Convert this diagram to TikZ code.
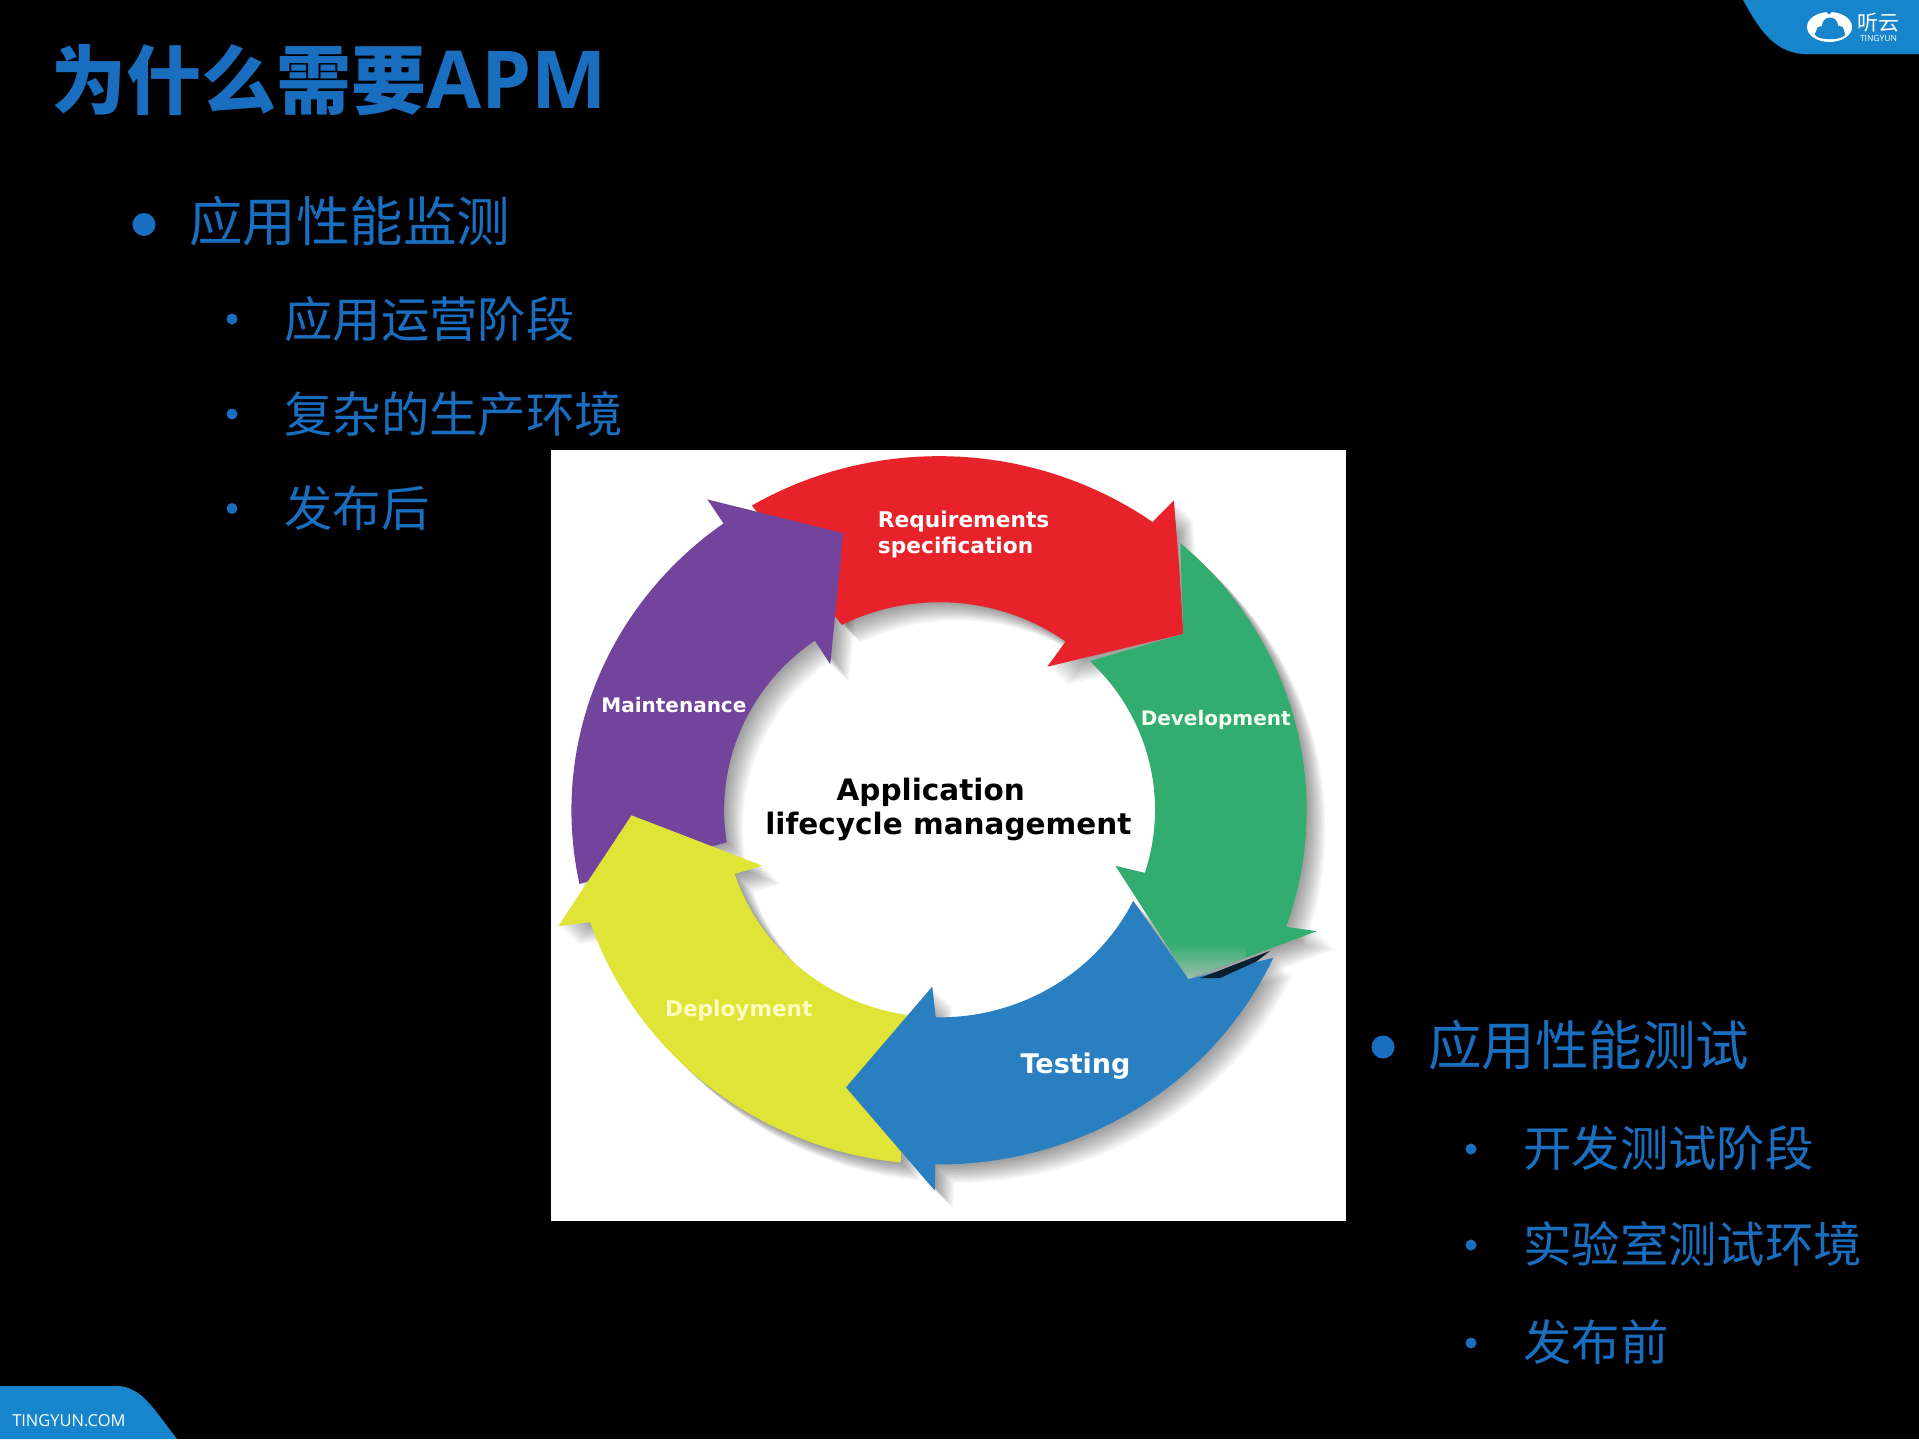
\documentclass[tikz,border=0pt]{standalone}
\usepackage{fontspec}
\setmainfont{Open Sans}
\newfontfamily\cjk{Noto Sans CJK SC}
\newfontfamily\ringfont{DejaVu Sans}
\definecolor{tyblue}{HTML}{1A6EBF}
\definecolor{band}{HTML}{1785CC}
\definecolor{cred}{HTML}{E8222A}
\definecolor{cpur}{HTML}{73449C}
\definecolor{cyel}{HTML}{E0E436}
\definecolor{cblu}{HTML}{2A7FC1}
\definecolor{cgrn}{HTML}{33AD6F}
\newcommand\fpx[1]{\fontsize{\the\dimexpr #1pt*3/4\relax}{#1pt}\selectfont}
\newcommand\redp{plot[domain=239.4:305.5,samples=40] ({763+703*cos(\x)},{735+703*sin(\x)}) -- (1212,120) -- (1222,250) -- (1230,385) -- (970,450) -- plot[domain=305.8:243,samples=40] ({764+412*cos(\x)},{734+412*sin(\x)}) -- cycle}
\newcommand\purp{plot[domain=168:234.1,samples=40] ({763+703*cos(\x)},{735+703*sin(\x)}) -- (320,118) -- (580,185) -- (555,445) -- plot[domain=234.6:171,samples=40] ({764+412*cos(\x)},{734+412*sin(\x)}) -- cycle}
\newcommand\yelp{plot[domain=96:161.6,samples=40] ({763+703*cos(\x)},{735+703*sin(\x)}) -- (35,965) -- (175,745) -- (425,845) -- plot[domain=162:98.6,samples=40] ({764+412*cos(\x)},{734+412*sin(\x)}) -- cycle}
\newcommand\blup{plot[domain=24.6:90.6,samples=40] ({763+703*cos(\x)},{735+703*sin(\x)}) -- (755,1490) -- (585,1285) -- (750,1085) -- plot[domain=91:26,samples=40] ({764+412*cos(\x)},{734+412*sin(\x)}) -- (1240,1070) -- cycle}
\newcommand\grnp{plot[domain=-49:19.2,samples=40] ({763+703*cos(\x)},{735+703*sin(\x)}) -- (1485,975) -- (1240,1070) -- (1100,845) -- plot[domain=17.7:-45.8,samples=40] ({764+412*cos(\x)},{734+412*sin(\x)}) -- (1230,385) -- cycle}
\tikzset{
  head/.style={inner sep=0pt,anchor=west,text=tyblue},
  lvlone/.style={head,font=\cjk\fpx{53.5}},
  lvltwo/.style={head,font=\cjk\fpx{48.4}},
  dotone/.style={circle,fill=tyblue,inner sep=0pt,minimum size=17.25pt},
  dottwo/.style={circle,fill=tyblue,inner sep=0pt,minimum size=8.25pt},
  ringlabel/.style={inner sep=0pt,align=center,font=\ringfont\bfseries\fpx{20},text=white},
  centrelabel/.style={ringlabel,text=black,font=\ringfont\bfseries\fpx{29.5}},
}
\begin{document}
\begin{tikzpicture}[x=0.75pt,y=-0.75pt]
\useasboundingbox (0,0) rectangle (1919,1439);
\fill[black] (0,0) rectangle (1919,1439);
% bands
\fill[band] (1743,0) .. controls (1757,25) and (1772,52) .. (1803,54) -- (1919,54) -- (1919,0) -- cycle;
\fill[band] (0,1386) -- (118,1386) .. controls (135,1387) and (145,1398) .. (155,1410) -- (177,1439) -- (0,1439) -- cycle;
% logo
\fill[white] (1829.5,27) ellipse [x radius=16.9pt,y radius=11.25pt];
\fill[band] (1830,25.5) circle [radius=6pt] (1821,31) circle [radius=3.7pt] (1839,31) circle [radius=4pt] (1830,34) ellipse [x radius=11.5pt,y radius=3.9pt];
\fill[band] (1825,10) -- (1829,14.5) -- (1834,10) -- cycle;
\node[inner sep=0pt,text=white,font=\cjk\fpx{21}] (logotext) at (1878,23) {听云};
\node[inner sep=0pt,text=white,font=\fpx{8.5}] (logosub) at (1878.5,38.5) {TINGYUN};
\node[inner sep=0pt,anchor=west,text=white,font=\fpx{16.5}] (foot) at (12,1421) {TINGYUN.COM};
% title and lists
\node[head,font=\cjk\bfseries\fpx{75}] (title) at (51,80) {为什么需要{\rmfamily\bfseries\fpx{80}APM}};
\node[dotone] (b1) at (144,224.5) {};
\node[lvlone] (t1) at (189,221) {应用性能监测};
\node[dottwo] (b11) at (232,319) {};
\node[lvltwo] (t11) at (284,319) {应用运营阶段};
\node[dottwo] (b12) at (232,414) {};
\node[lvltwo] (t12) at (284,414) {复杂的生产环境};
\node[dottwo] (b13) at (232,508.5) {};
\node[lvltwo] (t13) at (284,508) {发布后};
\node[dotone] (b2) at (1383,1047) {};
\node[lvlone] (t2) at (1428,1045) {应用性能测试};
\node[dottwo] (b21) at (1471,1149) {};
\node[lvltwo] (t21) at (1523,1148) {开发测试阶段};
\node[dottwo] (b22) at (1471,1245) {};
\node[lvltwo] (t22) at (1523,1244) {实验室测试环境};
\node[dottwo] (b23) at (1471,1343) {};
\node[lvltwo] (t23) at (1523,1342) {发布前};
% picture
\fill[white] (551,450) rectangle (1346,1221);
\begin{scope}[shift={(540,440)},xscale=0.523,yscale=0.5038]
 \foreach \d in {3,6,...,36}{
  \begin{scope}[shift={(\d,\d)}]
   \fill[black,opacity=0.035] \redp;
   \fill[black,opacity=0.035] \purp;
   \fill[black,opacity=0.035] \yelp;
   \fill[black,opacity=0.035] \blup;
   \fill[black,opacity=0.035] \grnp;
  \end{scope}}
 \fill[cred] \redp;
 \fill[cpur] \purp;
 \fill[cyel] \yelp;
 \fill[cblu] \blup;
 \fill[cgrn] \grnp;
 \fill[black!75!cblu] (1262,1068) -- (1396,1014) -- (1370,1035) -- (1300,1068) -- cycle;
 \shade[top color=cgrn,bottom color=cgrn!45!gray!60!white] (1240,1070) -- (1196,1000) -- (1350,1000) -- (1350,1027) -- cycle;
 \node[ringlabel,align=left,font=\ringfont\bfseries\fpx{21.7}] (req) at (810,187) {Requirements\\[-2pt]specification};
 \node[ringlabel,text=green!5] (dev) at (1292,555) {Development};
 \node[ringlabel,font=\ringfont\bfseries\fpx{27}] (tst) at (1024,1242) {Testing};
 \node[ringlabel,text=yellow!25,font=\ringfont\bfseries\fpx{21.6}] (dep) at (380,1132) {Deployment};
 \node[ringlabel] (mnt) at (256,526) {Maintenance};
 \node[centrelabel] (app1) at (747,699) {Application};
 \node[centrelabel] (app2) at (781,768) {lifecycle management};
\end{scope}
\end{tikzpicture}
\end{document}
